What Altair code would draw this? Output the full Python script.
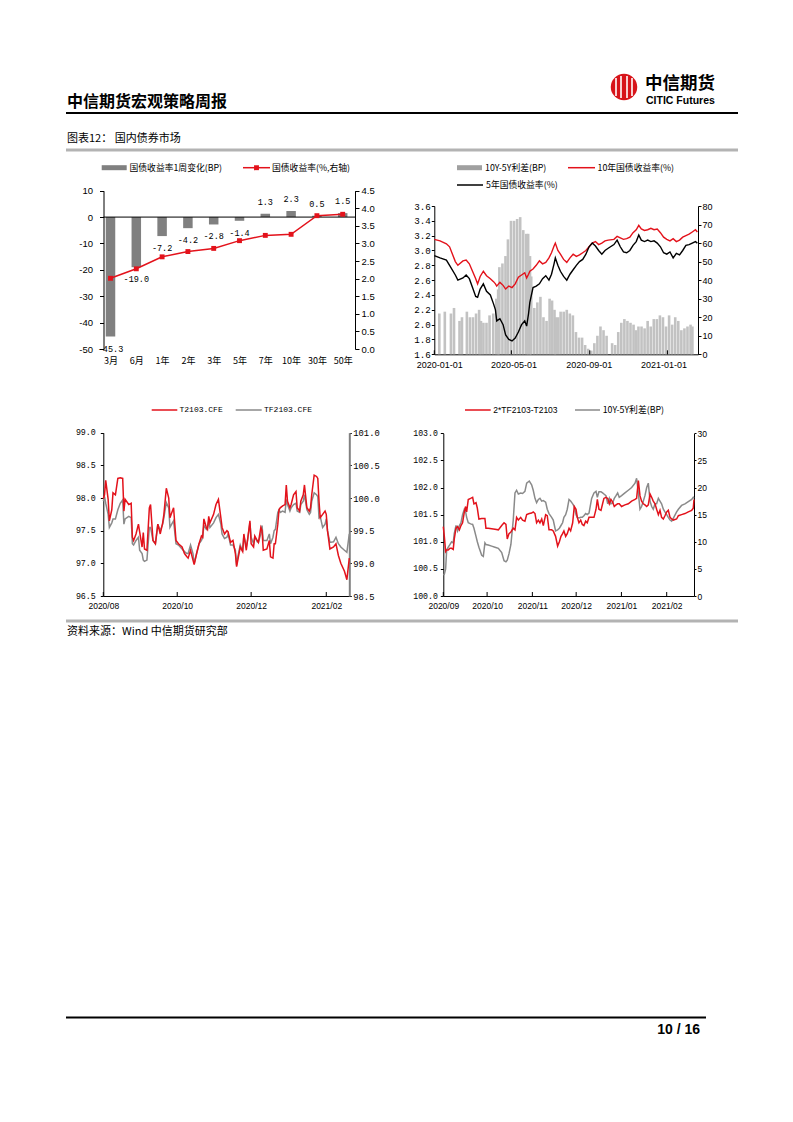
import altair as alt
import pandas as pd

W, H = 770, 1070
M = 8
CJK = 'Noto Sans CJK SC'
SANS = 'Liberation Sans'
MONO = 'Liberation Mono'
RED = '#e3121b'
BAR_GRAY = '#808080'
LINE_GRAY = '#8a8a8a'

def X(p):
    return p - M

def Y(p):
    return p - M

def ms(start, days=0.0):
    return int((pd.Timestamp(start, tz='UTC') + pd.Timedelta(days=float(days))).value // 10**6)

# ---------------- data ----------------
# Chart A: yield curve
A_CATS = ['3月', '6月', '1年', '2年', '3年', '5年', '7年', '10年', '30年', '50年']
A_CHG = [-45.3, -19.0, -7.2, -4.2, -2.8, -1.4, 1.3, 2.3, 0.5, 1.5]
A_YLD = [2.01, 2.28, 2.62, 2.77, 2.86, 3.08, 3.23, 3.26, 3.79, 3.83]
A_LEFT_TICKS = [-50, -40, -30, -20, -10, 0, 10]
A_RIGHT_TICKS = [0, 0.5, 1.0, 1.5, 2.0, 2.5, 3.0, 3.5, 4.0, 4.5]

# Chart B: 10Y / 5Y yields (days after 2020-01-01)
B_START = '2020-01-01'
B_DAYS = [0, 9, 19, 24, 33, 37, 45, 50, 55, 60,
          65, 68, 72, 77, 82, 88, 93, 96, 98, 103,
          108, 112, 117, 122, 127, 132, 137, 142, 145, 148,
          150, 155, 160, 165, 170, 175, 180, 184, 188, 190,
          194, 198, 203, 208, 213, 218, 223, 228, 233, 238,
          243, 248, 253, 258, 263, 268, 273, 282, 287, 292,
          297, 302, 307, 312, 317, 321, 325, 330, 335, 340,
          345, 350, 355, 360, 365, 370, 375, 380, 385, 390,
          395, 400, 405, 410, 413]
B_Y10 = [3.15, 3.13, 3.09, 3.05, 2.85, 2.80, 2.86, 2.87, 2.82, 2.72,
         2.62, 2.55, 2.65, 2.72, 2.66, 2.62, 2.58, 2.55, 2.52, 2.57,
         2.53, 2.48, 2.52, 2.50, 2.55, 2.64, 2.67, 2.70, 2.63, 2.68,
         2.72, 2.75, 2.80, 2.86, 2.82, 2.84, 2.90, 2.97, 3.06, 3.10,
         3.00, 2.95, 2.88, 2.84, 2.90, 2.95, 2.92, 2.94, 2.97, 3.00,
         3.05, 3.10, 3.12, 3.08, 3.10, 3.13, 3.14, 3.15, 3.19, 3.17,
         3.15, 3.16, 3.18, 3.24, 3.28, 3.34, 3.29, 3.27, 3.28, 3.30,
         3.28, 3.29, 3.24, 3.18, 3.15, 3.13, 3.16, 3.12, 3.14, 3.18,
         3.20, 3.22, 3.25, 3.28, 3.25]
B_Y5 = [2.93, 2.90, 2.87, 2.80, 2.67, 2.60, 2.63, 2.67, 2.62, 2.50,
        2.38, 2.37, 2.48, 2.55, 2.45, 2.40, 2.28, 2.20, 2.05, 2.08,
        2.00, 1.86, 1.80, 1.78, 1.82, 1.90, 2.00, 2.05, 1.98, 2.15,
        2.30, 2.50, 2.52, 2.55, 2.62, 2.66, 2.60, 2.68, 2.82, 2.90,
        2.80, 2.72, 2.65, 2.60, 2.68, 2.74, 2.80, 2.85, 2.88, 2.95,
        3.05, 3.10, 3.06, 3.00, 2.95, 3.00, 3.03, 3.08, 3.14, 3.05,
        2.98, 2.97, 3.00, 3.07, 3.12, 3.21, 3.14, 3.12, 3.14, 3.12,
        3.13, 3.10, 3.05, 2.97, 2.95, 2.98, 2.90, 2.96, 2.94, 3.00,
        3.07, 3.08, 3.10, 3.12, 3.10]
B_SPREAD = [22, 23, 22, 25, 18, 20, 23, 20, 20, 22,
            24, 18, 17, 17, 21, 22, 30, 35, 47, 49,
            53, 62, 72, 72, 73, 74, 67, 65, 65, 53,
            42, 25, 28, 31, 20, 18, 30, 29, 24, 20,
            20, 23, 23, 24, 22, 21, 12, 9, 9, 5,
            3, 2, 6, 10, 15, 13, 10, 6, 5, 12,
            17, 19, 18, 17, 16, 13, 15, 15, 14, 18,
            15, 19, 19, 21, 20, 15, 21, 16, 20, 18,
            13, 14, 15, 16, 15]
B_XTICKS = ['2020-01-01', '2020-05-01', '2020-09-01', '2021-01-01']
B_LEFT_TICKS = [1.6, 1.8, 2.0, 2.2, 2.4, 2.6, 2.8, 3.0, 3.2, 3.4, 3.6]
B_RIGHT_TICKS = [0, 10, 20, 30, 40, 50, 60, 70, 80]

# Chart C: T2103 / TF2103 (days after 2020-08-01)
C_START = '2020-08-01'
C_DAYS = [0, 1, 2, 4, 5, 7, 8, 10, 12, 14,
          16, 17, 18, 21, 23, 24, 25, 27, 29, 30,
          32, 33, 34, 36, 38, 39, 41, 43, 45, 47,
          49, 50, 52, 54, 55, 57, 58, 60, 62, 65,
          67, 69, 70, 72, 74, 75, 77, 79, 81, 82,
          83, 85, 86, 87, 88, 91, 93, 95, 97, 98,
          100, 102, 103, 105, 107, 109, 110, 111, 113, 115,
          116, 118, 119, 121, 122, 124, 125, 127, 128, 130,
          131, 132, 135, 137, 138, 140, 141, 142, 144, 145,
          146, 148, 150, 151, 152, 154, 155, 157, 159, 160,
          162, 163, 165, 166, 168, 170, 171, 172, 174, 176,
          177, 178, 179, 181, 183, 184, 185, 187, 190, 192,
          194, 196, 199, 201, 203]
C_T = [97.99, 98.05, 98.27, 97.98, 97.65, 97.82, 98.08, 98.05, 98.30, 98.31,
       98.30, 97.80, 97.98, 97.90, 97.92, 97.40, 97.35, 97.45, 97.60, 97.48,
       97.25, 97.47, 97.22, 97.20, 97.85, 97.90, 97.35, 97.30, 97.60, 97.45,
       97.62, 97.75, 98.15, 98.00, 97.70, 97.80, 97.85, 97.35, 97.30, 97.25,
       97.15, 97.10, 97.08, 97.20, 97.05, 96.98, 97.15, 97.30, 97.42, 97.40,
       97.68, 97.55, 97.52, 97.72, 97.62, 97.75, 97.90, 97.98, 97.70, 97.55,
       97.45, 97.50, 97.48, 97.32, 97.35, 97.15, 96.95, 97.05, 97.25, 97.18,
       97.45, 97.20, 97.35, 97.65, 97.30, 97.25, 97.42, 97.35, 97.32, 97.55,
       97.50, 97.20, 97.22, 97.35, 97.10, 97.08, 97.30, 97.30, 97.60, 97.82,
       97.85, 97.88, 97.90, 98.20, 97.95, 97.85, 97.90, 98.05, 98.10, 97.85,
       97.80, 97.95, 98.05, 98.20, 97.85, 97.80, 97.85, 98.05, 98.35, 98.33,
       98.30, 97.95, 97.70, 97.75, 97.80, 97.75, 97.50, 97.22, 97.25, 97.30,
       97.12, 97.00, 96.88, 96.75, 97.08]
C_TF = [99.95, 100.02, 99.92, 99.75, 99.55, 99.62, 99.68, 99.68, 99.82, 99.92,
        99.97, 99.60, 99.68, 99.72, 99.70, 99.30, 99.28, 99.35, 99.40, 99.20,
        99.15, 99.05, 99.03, 99.05, 99.55, 99.55, 99.35, 99.30, 99.60, 99.50,
        99.60, 99.70, 99.93, 99.85, 99.55, 99.62, 99.65, 99.30, 99.28, 99.22,
        99.18, 99.15, 99.15, 99.28, 99.15, 99.00, 99.15, 99.30, 99.35, 99.40,
        99.58, 99.52, 99.55, 99.65, 99.55, 99.62, 99.70, 99.75, 99.60, 99.45,
        99.38, 99.40, 99.45, 99.28, 99.28, 99.20, 98.97, 99.10, 99.28, 99.18,
        99.42, 99.25, 99.35, 99.62, 99.40, 99.30, 99.40, 99.33, 99.32, 99.45,
        99.58, 99.35, 99.35, 99.45, 99.30, 99.40, 99.50, 99.52, 99.78, 99.82,
        99.78, 99.80, 99.78, 99.98, 99.90, 99.80, 99.85, 99.90, 99.92, 99.80,
        99.78, 99.90, 99.95, 100.05, 99.82, 99.75, 99.78, 99.95, 100.08, 100.05,
        100.02, 99.70, 99.72, 99.55, 99.60, 99.68, 99.50, 99.32, 99.33, 99.40,
        99.30, 99.25, 99.20, 99.17, 99.45]
C_XTICKS = ['2020-08-01', '2020-10-01', '2020-12-01', '2021-02-01']
C_LEFT_TICKS = [96.5, 97.0, 97.5, 98.0, 98.5, 99.0]
C_RIGHT_TICKS = [98.5, 99.0, 99.5, 100.0, 100.5, 101.0]

# Chart D: 2*TF-T vs 10Y-5Y spread (days after 2020-09-01)
D_START = '2020-09-01'
D_DAYS = [0, 0.7, 1.6, 2.3, 3.4, 4.6, 5.7, 6.8, 7.5, 8.7,
          9.8, 11.0, 12.1, 13.2, 14.4, 15.3, 16.0, 17.1, 18.7, 20.1,
          21.0, 22.4, 23.3, 24.4, 26.3, 27.4, 28.5, 29.2, 30.8, 33.1,
          35.4, 37.7, 40.0, 41.6, 42.9, 43.8, 45.0, 46.3, 47.9, 49.1,
          50.2, 51.4, 53.0, 54.3, 55.9, 57.1, 58.9, 60.5, 61.6, 62.8,
          63.9, 65.1, 66.2, 67.4, 68.5, 70.1, 71.2, 72.4, 74.2, 75.3,
          76.9, 78.3, 79.5, 80.6, 81.7, 82.6, 83.8, 84.9, 86.1, 87.2,
          88.6, 89.7, 90.9, 91.8, 92.9, 94.1, 95.2, 96.3, 97.5, 98.6,
          99.8, 101.6, 103.2, 104.6, 105.5, 106.6, 108.0, 109.1, 110.0, 111.4,
          112.6, 113.7, 114.8, 116.0, 117.1, 118.3, 119.4, 120.5, 122.1, 124.4,
          126.7, 129.0, 131.3, 132.4, 133.6, 134.7, 135.8, 137.0, 138.1, 139.3,
          140.4, 141.6, 142.7, 143.8, 145.0, 146.1, 147.3, 148.4, 149.5, 150.7,
          151.8, 153.0, 154.1, 155.3, 156.4, 157.5, 159.8, 161.0, 163.2, 165.5,
          167.8, 170.1, 171.2, 171.7]
D_BASIS = [101.28, 101.10, 100.82, 100.85, 100.85, 100.88, 100.88, 100.86, 101.05, 101.25,
           101.28, 101.22, 101.30, 101.35, 101.55, 101.65, 101.55, 101.78, 101.80, 101.82,
           101.70, 101.72, 101.62, 101.42, 101.43, 101.43, 101.43, 101.25, 101.25, 101.24,
           101.23, 101.22, 101.30, 101.35, 101.32, 101.05, 101.15, 101.18, 101.25, 101.22,
           101.45, 101.40, 101.45, 101.40, 101.38, 101.50, 101.52, 101.53, 101.55, 101.52,
           101.35, 101.40, 101.35, 101.42, 101.30, 101.50, 101.48, 101.22, 101.22, 101.20,
           101.10, 100.92, 101.00, 101.10, 101.15, 101.20, 101.10, 101.15, 101.25, 101.20,
           101.35, 101.65, 101.60, 101.45, 101.35, 101.40, 101.32, 101.30, 101.38, 101.35,
           101.45, 101.45, 101.45, 101.60, 101.78, 101.60, 101.58, 101.70, 101.80, 101.82,
           101.80, 101.70, 101.78, 101.73, 101.65, 101.68, 101.70, 101.70, 101.65, 101.68,
           101.70, 101.75, 101.78, 101.80, 102.13, 101.85, 101.75, 101.70, 101.68, 101.65,
           101.68, 101.88, 101.82, 101.75, 101.70, 101.60, 101.50, 101.58, 101.45, 101.42,
           101.48, 101.55, 101.58, 101.45, 101.42, 101.40, 101.42, 101.48, 101.50, 101.52,
           101.55, 101.58, 101.62, 101.78]
D_SPREAD = [3.9, 4.0, 5.0, 8.5, 9.0, 9.5, 10.0, 9.8, 11.5, 13.0,
            12.0, 13.0, 13.5, 15.0, 16.0, 15.5, 14.5, 13.5, 13.3, 13.2,
            12.5, 11.0, 10.0, 9.0, 7.5, 7.3, 9.8, 9.5, 9.4, 9.2,
            9.0, 8.8, 8.0, 6.5, 6.3, 6.6, 7.8, 9.5, 14.0, 19.0,
            19.5, 18.8, 19.0, 18.9, 19.3, 20.8, 21.2, 20.5, 19.5, 18.0,
            17.2, 17.8, 18.0, 17.5, 17.6, 17.3, 16.0, 15.2, 14.5, 14.0,
            12.0, 12.2, 12.5, 13.0, 13.5, 14.5, 15.0, 16.0, 17.8, 17.5,
            17.0, 16.5, 15.0, 14.5, 14.4, 14.5, 14.5, 14.8, 15.2, 15.0,
            15.3, 18.0, 19.0, 19.3, 18.2, 19.2, 19.2, 19.0, 18.8, 18.5,
            17.0, 18.0, 17.0, 17.2, 18.0, 18.5, 19.0, 18.2, 18.5, 19.0,
            19.5, 20.0, 20.8, 21.7, 19.0, 16.0, 16.5, 17.5, 18.5, 20.0,
            20.8, 17.5, 16.5, 16.0, 17.0, 17.0, 18.0, 17.5, 17.0, 16.0,
            15.5, 15.0, 14.5, 14.0, 13.8, 14.3, 15.5, 16.0, 16.7, 17.0,
            17.4, 17.8, 18.2, 18.0]
D_XTICKS = ['2020-09-01', '2020-10-01', '2020-11-01', '2020-12-01', '2021-01-01', '2021-02-01']
D_LEFT_TICKS = [100.0, 100.5, 101.0, 101.5, 102.0, 102.5, 103.0]
D_RIGHT_TICKS = [0, 5, 10, 15, 20, 25, 30]

# ---------------- helpers ----------------
ONE = pd.DataFrame({'k': [0]})

def txt(s, x, y, size, font=CJK, weight='normal', color='#000000', align='left'):
    return alt.Chart(ONE).mark_text(text=s, fontSize=size, font=font, fontWeight=weight,
                                    color=color, align=align, baseline='middle').encode(
        x=alt.value(X(x)), y=alt.value(Y(y)))

def seg(x1, y1, x2, y2, color='#000000', w=1.0):
    return alt.Chart(ONE).mark_rule(color=color, strokeWidth=w).encode(
        x=alt.value(X(x1)), y=alt.value(Y(y1)), x2=alt.value(X(x2)), y2=alt.value(Y(y2)))

def dot(x, y, shape, size, color):
    return alt.Chart(ONE).mark_point(shape=shape, filled=True, size=size, color=color, opacity=1).encode(
        x=alt.value(X(x)), y=alt.value(Y(y)))

def yaxis(orient, xpos, values, fmt=None, font=SANS, size=9, tick=3, pad=2, color='#000000', width=1.0, expr=None):
    off = -X(xpos) if orient == 'left' else X(xpos) - W
    kw = dict(orient=orient, offset=off, values=values, grid=False, domainColor=color,
              domainWidth=width, tickColor='#000000', tickSize=tick, labelPadding=pad,
              labelFont=font, labelFontSize=size, labelColor='#000000', title=None,
              labelOverlap=False)
    if fmt:
        kw['format'] = fmt
    if expr:
        kw['labelExpr'] = expr
    return alt.Axis(**kw)

def xaxis(ypos, values, fmt, size=8.5, pad=5):
    return alt.Axis(orient='bottom', offset=Y(ypos) - H, values=values,
                    labelExpr="utcFormat(datum.value, '%s')" % fmt, ticks=False,
                    domainColor='#000000', labelFont=SANS, labelFontSize=size, labelPadding=pad,
                    labelFlush=False, labelOverlap=False, grid=False, title=None,
                    labelColor='#000000', labelAngle=0)

def tscale(start, days, x0, x1):
    return alt.Scale(type='utc', domain=[ms(start), ms(start, days)], range=[X(x0), X(x1)], nice=False)

def lscale(lo, hi, bottom, top):
    return alt.Scale(domain=[lo, hi], range=[Y(bottom), Y(top)], nice=False, zero=False)

def up_ticks(ticks, scale, ybottom):
    df = pd.DataFrame({'t': [ms(t) for t in ticks]})
    return alt.Chart(df).mark_rule(color='#000000', strokeWidth=1).encode(
        x=alt.X('t:T', scale=scale, axis=None),
        y=alt.value(Y(ybottom)), y2=alt.value(Y(ybottom) - 4))

layers = []

# ---------------- page decorations ----------------
layers += [
    txt('中信期货宏观策略周报', 67, 101.5, 16, weight='bold'),
    dot(624, 87, 'circle', 700, '#d7141a'),
    seg(616, 78, 616, 96, '#ffffff', 1.6),
    seg(621, 76, 621, 98, '#ffffff', 1.6),
    seg(627, 76, 627, 98, '#ffffff', 1.6),
    seg(632, 78, 632, 96, '#ffffff', 1.6),
    txt('中信期货', 645, 84, 17.5, weight='bold'),
    txt('CITIC Futures', 646, 100.5, 10.5, font=SANS, weight='bold'),
    seg(66, 113, 738, 113, '#000000', 2),
    txt('图表12：  国内债券市场', 67, 139, 11),
    seg(66, 150, 738, 150, '#b3b3b3', 3),
    seg(66, 621, 738, 621, '#b3b3b3', 3),
    txt('资料来源：Wind 中信期货研究部', 67, 632, 11),
    seg(66, 1017.5, 706, 1017.5, '#000000', 2),
    txt('10 / 16', 700, 1030, 14, font=SANS, weight='bold', align='right'),
]

# ---------------- chart A ----------------
dfA = pd.DataFrame({'cat': A_CATS, 'chg': A_CHG, 'yld': A_YLD,
                    'lbl': ['%.1f' % v for v in A_CHG]})
sA_x = alt.Scale(type='point', domain=A_CATS, range=[X(110.5), X(342.7)], padding=0)
sA_l = lscale(-50, 10, 349, 190.7)
sA_r = lscale(0, 4.5, 349, 190.7)
axA_x = alt.Axis(orient='bottom', offset=Y(349) - H, domain=False, ticks=False, labelFont=CJK,
                 labelFontSize=9, labelPadding=7, labelAngle=0, title=None, grid=False,
                 labelColor='#000000')
layers += [
    alt.Chart(dfA).mark_bar(color=BAR_GRAY, size=9.5).encode(
        x=alt.X('cat:N', scale=sA_x, axis=axA_x),
        y=alt.Y('chg:Q', scale=sA_l, axis=yaxis('left', 103.5, A_LEFT_TICKS, size=9.5, tick=4, pad=7,
                                                 expr='toString(datum.value)')),
        y2=alt.datum(0)),
    alt.Chart(ONE).mark_rule(color='#000000', strokeWidth=1).encode(
        y=alt.YDatum(0, scale=sA_l, axis=None), x=alt.value(X(103.5)), x2=alt.value(X(355))),
    alt.Chart(dfA).mark_line(color=RED, strokeWidth=1.5).encode(
        x=alt.X('cat:N', scale=sA_x, axis=None),
        y=alt.Y('yld:Q', scale=sA_r, axis=yaxis('right', 355, A_RIGHT_TICKS, fmt='.1f', size=9.5, tick=4, pad=2))),
    alt.Chart(dfA).mark_point(shape='square', filled=True, size=24, color=RED, opacity=1).encode(
        x=alt.X('cat:N', scale=sA_x, axis=None),
        y=alt.Y('yld:Q', scale=sA_r, axis=None)),
    alt.Chart(dfA).transform_filter('datum.chg < 0').mark_text(
        font=MONO, fontSize=8.5, dy=12, baseline='middle', color='#000000').encode(
        x=alt.X('cat:N', scale=sA_x, axis=None),
        y=alt.Y('chg:Q', scale=sA_l, axis=None), text='lbl:N'),
    alt.Chart(dfA).transform_filter('datum.chg >= 0').mark_text(
        font=MONO, fontSize=8.5, dy=-12, baseline='middle', color='#000000').encode(
        x=alt.X('cat:N', scale=sA_x, axis=None),
        y=alt.Y('chg:Q', scale=sA_l, axis=None), text='lbl:N'),
    # legend A
    seg(101.7, 167.7, 126.7, 167.7, BAR_GRAY, 5),
    txt('国债收益率1周变化(BP)', 129.5, 167.7, 8.8),
    seg(243, 167.7, 270, 167.7, RED, 1.5),
    dot(256.5, 167.7, 'square', 24, RED),
    txt('国债收益率(%,右轴)', 272, 167.7, 8.8),
]

# ---------------- chart B ----------------
dfB = pd.DataFrame({'t': [ms(B_START, d) for d in B_DAYS], 'y10': B_Y10, 'y5': B_Y5, 'spr': B_SPREAD})
sB_x = tscale(B_START, 414, 434.3, 698)
sB_l = lscale(1.6, 3.6, 354.3, 206)
sB_r = lscale(0, 80, 354.3, 206)
layers += [
    alt.Chart(dfB).mark_bar(color='#c2c2c2', size=2.6).encode(
        x=alt.X('t:T', scale=sB_x, axis=xaxis(354.3, [ms(t) for t in B_XTICKS], '%Y-%m-%d', size=9, pad=6)),
        y=alt.Y('spr:Q', scale=sB_r, axis=yaxis('right', 698, B_RIGHT_TICKS, fmt='d', size=9, tick=3, pad=1)),
        y2=alt.datum(0)),
    alt.Chart(dfB).mark_line(color=RED, strokeWidth=1.4).encode(
        x=alt.X('t:T', scale=sB_x, axis=None),
        y=alt.Y('y10:Q', scale=sB_l, axis=yaxis('left', 434.3, B_LEFT_TICKS, fmt='.1f', font=MONO, size=9.2, tick=3, pad=1))),
    alt.Chart(dfB).mark_line(color='#000000', strokeWidth=1.4).encode(
        x=alt.X('t:T', scale=sB_x, axis=None),
        y=alt.Y('y5:Q', scale=sB_l, axis=None)),
    up_ticks(B_XTICKS, sB_x, 354.3),
    seg(457, 167.7, 482, 167.7, '#a0a0a0', 5),
    txt('10Y-5Y利差(BP)', 485, 167.7, 8.8),
    seg(568, 167.7, 595, 167.7, RED, 1.5),
    txt('10年国债收益率(%)', 597.5, 167.7, 8.8),
    seg(457, 185, 483, 185, '#000000', 1.5),
    txt('5年国债收益率(%)', 486, 185, 8.8),
]

# ---------------- chart C ----------------
dfC = pd.DataFrame({'t': [ms(C_START, d) for d in C_DAYS], 'T': C_T, 'TF': C_TF})
sC_x = tscale(C_START, 203, 103.3, 349.3)
sC_l = lscale(96.5, 99.0, 596, 432.7)
sC_r = lscale(98.5, 101.0, 596, 432.7)
layers += [
    alt.Chart(dfC).mark_line(color=LINE_GRAY, strokeWidth=1.5).encode(
        x=alt.X('t:T', scale=sC_x, axis=xaxis(596, [ms(t) for t in C_XTICKS], '%Y/%m', size=8.5, pad=5)),
        y=alt.Y('TF:Q', scale=sC_r, axis=yaxis('right', 349.3, C_RIGHT_TICKS, fmt='.1f', font=MONO, size=8.8,
                                               tick=2, pad=1.5, color='#808080', width=2))),
    alt.Chart(dfC).mark_line(color=RED, strokeWidth=1.5).encode(
        x=alt.X('t:T', scale=sC_x, axis=None),
        y=alt.Y('T:Q', scale=sC_l, axis=yaxis('left', 103.3, C_LEFT_TICKS, fmt='.1f', font=MONO, size=8.3, tick=3, pad=5))),
    up_ticks(C_XTICKS, sC_x, 596),
    seg(151.7, 410, 177.3, 410, RED, 1.5),
    txt('T2103.CFE', 179.5, 410, 8, font=MONO),
    seg(235.7, 410, 261.7, 410, LINE_GRAY, 1.5),
    txt('TF2103.CFE', 264, 410, 8, font=MONO),
]

# ---------------- chart D ----------------
dfD = pd.DataFrame({'t': [ms(D_START, d) for d in D_DAYS], 'basis': D_BASIS, 'spr': D_SPREAD})
sD_x = tscale(D_START, 171.7, 443.3, 694)
sD_l = lscale(100.0, 103.0, 596, 433.3)
sD_r = lscale(0, 30, 596, 433.3)
layers += [
    alt.Chart(dfD).mark_line(color=LINE_GRAY, strokeWidth=1.5).encode(
        x=alt.X('t:T', scale=sD_x, axis=xaxis(596, [ms(t) for t in D_XTICKS], '%Y/%m', size=8.5, pad=5)),
        y=alt.Y('spr:Q', scale=sD_r, axis=yaxis('right', 694, D_RIGHT_TICKS, fmt='d', size=8.5, tick=2, pad=1))),
    alt.Chart(dfD).mark_line(color=RED, strokeWidth=1.5).encode(
        x=alt.X('t:T', scale=sD_x, axis=None),
        y=alt.Y('basis:Q', scale=sD_l, axis=yaxis('left', 443.3, D_LEFT_TICKS, fmt='.1f', font=MONO, size=8.2, tick=3, pad=3))),
    up_ticks(D_XTICKS, sD_x, 596),
    seg(465, 410, 490.7, 410, RED, 1.5),
    txt('2*TF2103-T2103', 493.3, 410, 8.5, font=SANS),
    seg(575, 410, 600, 410, LINE_GRAY, 1.5),
    txt('10Y-5Y利差(BP)', 602.7, 410, 8.8),
]

chart = alt.layer(*layers).resolve_scale(x='independent', y='independent').properties(
    width=W, height=H, padding=0).configure_view(strokeWidth=0)

chart.save('out.html', embed_options={'renderer': 'svg', 'actions': False})
